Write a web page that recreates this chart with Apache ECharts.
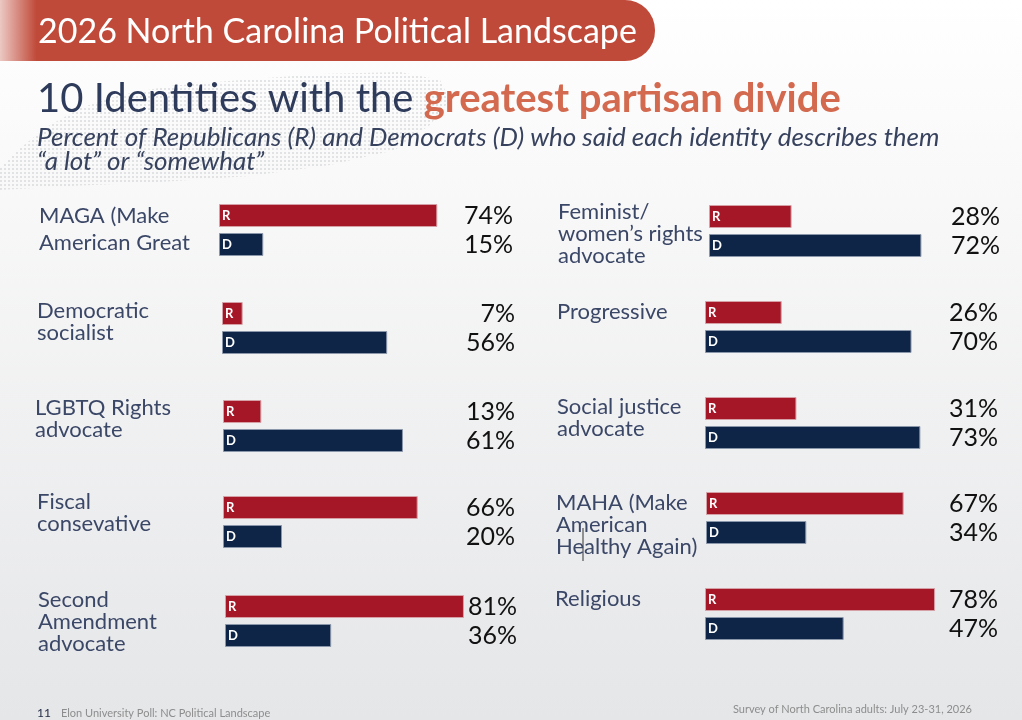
<!DOCTYPE html>
<html lang="en">
<head>
  <meta charset="UTF-8">
  <script src="https://cdn.jsdelivr.net/npm/echarts/dist/echarts.min.js"></script>
  <style>
    html, body { margin: 0; padding: 0; }
    #main { width: 1022px; height: 720px; }
  </style>
</head>
<body>
  <div id="main"></div>

  <script>
    // Data
    var identities = [
      'MAGA (Make\nAmerican Great',
      'Democratic\nsocialist',
      'LGBTQ Rights\nadvocate',
      'Fiscal\nconsevative',
      'Second\nAmendment\nadvocate',
      'Feminist/\nwomen\u2019s rights\nadvocate',
      'Progressive',
      'Social justice\nadvocate',
      'MAHA (Make\nAmerican\nHealthy Again)',
      'Religious'
    ];
    var repVals = [74, 7, 13, 66, 81, 28, 26, 31, 67, 78];
    var demVals = [15, 56, 61, 20, 36, 72, 70, 73, 34, 47];
    var partyTags = ['R', 'D'];

    // Panel layout (pixels)
    var barLeft  = [219, 222, 223, 223, 225, 709, 705, 705, 706, 705];
    var gridTop  = [201, 299, 397, 493, 592, 202, 298, 394, 489, 585];
    var pctRight = [513, 515, 515, 515, 517, 1000, 998, 998, 998, 998];
    var nameX    = [40, 38, 36, 38, 39, 559, 558, 558, 557, 556];
    var nameTop  = [207, 305, 402, 496, 594, 206, 306, 401, 497, 593];
    var nameLine = [27, 22, 22, 22, 22, 22, 22, 22, 22, 22];

    var RED = '#a51626';
    var NAVY = '#0e2548';
    var FONT = 'Lato, "Noto Sans", sans-serif';
    var SCALE_W = 295; // px for 100%

    // dotted pattern for the faint state map behind the title
    var dotCanvas = document.createElement('canvas');
    dotCanvas.width = 4; dotCanvas.height = 4;
    var dctx = dotCanvas.getContext('2d');
    dctx.fillStyle = 'rgba(190,192,196,0.4)';
    dctx.fillRect(0, 0, 2, 2);

    var chart = echarts.init(document.getElementById('main'));

    var grids = [], xAxes = [], yAxes = [], series = [];
    var titles = [
      {
        text: '{a|10 Identities with the }{b|greatest partisan divide}',
        left: 37, top: 79, padding: 0,
        textStyle: {
          rich: {
            a: { fontFamily: FONT, fontSize: 40, color: '#2e3b5b', fontWeight: 'normal' },
            b: { fontFamily: FONT, fontSize: 40, color: '#d36a4f', fontWeight: 'bold' }
          }
        }
      },
      {
        text: 'Percent of Republicans (R) and Democrats (D) who said each identity describes them\n\u201ca lot\u201d or \u201csomewhat\u201d',
        left: 37, top: 126, padding: 0,
        textStyle: { fontFamily: FONT, fontSize: 26, fontStyle: 'italic', fontWeight: 'normal', color: '#37425e', lineHeight: 24 }
      },
      {
        text: '{n|11}  {t|Elon University Poll: NC Political Landscape}',
        left: 37, top: 704, padding: 0,
        textStyle: {
          rich: {
            n: { fontFamily: FONT, fontSize: 12, color: '#1f2a44', fontWeight: 'normal' },
            t: { fontFamily: FONT, fontSize: 11, color: '#8d8d8d', fontWeight: 'normal' }
          }
        }
      },
      {
        text: 'Survey of North Carolina adults: July 23-31, 2026',
        right: 50, top: 704, padding: 0,
        textStyle: { fontFamily: FONT, fontSize: 11, color: '#8d8d8d', fontWeight: 'normal' }
      }
    ];

    for (var i = 0; i < identities.length; i++) {
      grids.push({ left: barLeft[i], top: gridTop[i], width: SCALE_W, height: 58 });
      xAxes.push({ type: 'value', gridIndex: i, min: 0, max: 100, show: false });
      yAxes.push({
        type: 'category', gridIndex: i, data: partyTags, inverse: true, show: false
      });
      yAxes.push({
        type: 'category', gridIndex: i, position: 'right', inverse: true,
        data: [repVals[i] + '%', demVals[i] + '%'],
        axisLine: { show: false }, axisTick: { show: false }, splitLine: { show: false },
        axisLabel: {
          interval: 0,
          align: 'right',
          margin: pctRight[i] - (barLeft[i] + SCALE_W),
          fontFamily: FONT, fontSize: 25, color: '#111111'
        }
      });
      series.push({
        type: 'bar',
        xAxisIndex: i,
        yAxisIndex: i * 2,
        barWidth: 23,
        data: [
          { value: repVals[i], itemStyle: { color: RED, borderColor: '#d5a0a6', borderWidth: 1 } },
          { value: demVals[i], itemStyle: { color: NAVY, borderColor: '#8a96aa', borderWidth: 1 } }
        ],
        label: {
          show: true,
          position: 'insideLeft',
          distance: 3,
          formatter: function (p) { return partyTags[p.dataIndex]; },
          color: '#ffffff',
          fontFamily: FONT,
          fontSize: 13,
          fontWeight: 'bold'
        }
      });
      titles.push({
        text: identities[i],
        left: nameX[i] - 1,
        top: nameTop[i] - 5,
        padding: 0,
        textStyle: {
          fontFamily: FONT, fontSize: 22, fontWeight: 'normal', color: '#3b4767',
          lineHeight: nameLine[i]
        }
      });
    }

    var option = {
      animation: false,
      backgroundColor: {
        type: 'linear', x: 0, y: 0, x2: 0, y2: 1,
        colorStops: [
          { offset: 0, color: '#ffffff' },
          { offset: 0.2, color: '#fafafa' },
          { offset: 1, color: '#e5e6e8' }
        ]
      },
      graphic: [
        {
          type: 'polygon', z: -1,
          shape: {
            points: [[0, 168], [18, 150], [45, 128], [80, 108], [120, 95], [170, 86], [240, 80],
                     [320, 74], [400, 72], [440, 80], [450, 100], [430, 125], [395, 150],
                     [330, 165], [250, 176], [160, 182], [70, 186], [0, 190]]
          },
          style: { fill: { image: dotCanvas, repeat: 'repeat' } }
        },
        {
          type: 'rect',
          shape: { x: -40, y: 0, width: 695, height: 61, r: [0, 30, 30, 0] },
          style: {
            fill: {
              type: 'linear', x: 0, y: 0, x2: 1, y2: 0,
              colorStops: [
                { offset: 0, color: '#ffffff' },
                { offset: 0.057, color: '#eccac4' },
                { offset: 0.11, color: '#c04a3a' },
                { offset: 1, color: '#c04a3a' }
              ]
            }
          }
        },
        {
          type: 'text', left: 38, top: 15,
          style: {
            text: '2026 North Carolina Political Landscape',
            fill: '#ffffff', font: 'normal 34px ' + FONT
          }
        },
        {
          type: 'line',
          shape: { x1: 583, y1: 528, x2: 583, y2: 561 },
          style: { stroke: '#333333', lineWidth: 1 }
        }
      ],
      title: titles,
      grid: grids,
      xAxis: xAxes,
      yAxis: yAxes,
      series: series
    };

    chart.setOption(option);
  </script>
</body>
</html>
